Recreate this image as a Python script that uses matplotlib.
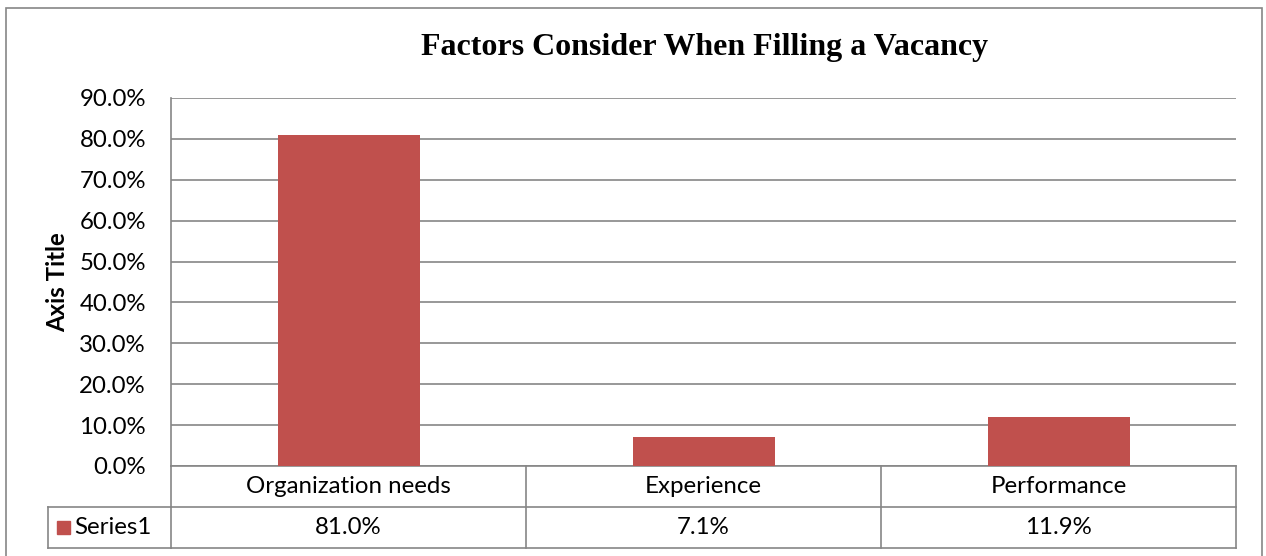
import matplotlib
matplotlib.use("Agg")
import matplotlib.pyplot as plt
from matplotlib.patches import Rectangle
from matplotlib.lines import Line2D
from matplotlib.transforms import blended_transform_factory

categories = ["Organization needs", "Experience", "Performance"]
values = [0.810, 0.071, 0.119]
series_name = "Series1"
title = "Factors Consider When Filling a Vacancy"
y_label = "Axis Title"
y_ticks = [0.0, 0.1, 0.2, 0.3, 0.4, 0.5, 0.6, 0.7, 0.8, 0.9]

W, H = 1266, 556
BAR = "#C0504D"
GRID = "#868686"
FONT = "Lato"
FS = 17.3

fig = plt.figure(figsize=(W / 100, H / 100), dpi=100)
fig.patch.set_facecolor("white")

def fx(px):
    return px / W

def fy(py):
    return 1 - py / H

# outer chart border (bottom edge lies below the image)
fig.patches.append(Rectangle((fx(6), fy(562)), fx(1262) - fx(6), fy(8) - fy(562),
                             transform=fig.transFigure, fill=False, edgecolor=GRID, lw=1.2))

ax_l, ax_r, ax_t, ax_b = 171, 1236, 98, 466
ax = fig.add_axes([fx(ax_l), fy(ax_b), fx(ax_r) - fx(ax_l), fy(ax_t) - fy(ax_b)])
x = list(range(len(categories)))
ax.bar(x, values, width=0.4, color=BAR, zorder=3)
ax.set_xlim(-0.5, len(categories) - 0.5)
ax.set_ylim(0, 0.9)
ax.set_yticks(y_ticks)
ax.set_yticklabels([f"{v:.1%}" for v in y_ticks], fontsize=FS, family=FONT)
ax.tick_params(axis="y", length=0, pad=18)
ax.set_xticks([])
ax.grid(axis="y", color=GRID, lw=1.2, zorder=0)
for s in ["top", "right", "bottom"]:
    ax.spines[s].set_visible(False)
ax.spines["left"].set_color(GRID)
ax.spines["left"].set_linewidth(1.2)

# axis title
fig.text(fx(58), fy(282), y_label, rotation=90, ha="center", va="center",
         fontsize=FS, fontweight="bold", family=FONT)

# chart title
fig.text(fx(705), fy(48), title, ha="center", va="center", fontsize=23,
         fontweight="bold", family="Liberation Serif")

# data table
tr = blended_transform_factory(ax.transData, ax.transAxes)
row_h = 41 / (ax_b - ax_t)
r1_top, r1_bot, r2_bot = 0.0, -row_h, -2 * row_h
xl, xr = -0.5, len(categories) - 0.5

def hline(x0, x1, y, transform=tr):
    ax.add_line(Line2D([x0, x1], [y, y], transform=transform, color=GRID, lw=1.2, clip_on=False))

def vline(xv, y0, y1, transform=tr):
    ax.add_line(Line2D([xv, xv], [y0, y1], transform=transform, color=GRID, lw=1.2, clip_on=False))

hline(xl, xr, r1_top)
hline(xl, xr, r1_bot)
hline(xl, xr, r2_bot)
for b in [i - 0.5 for i in range(len(categories) + 1)]:
    vline(b, r1_top, r2_bot)

# left header cell of row 2 (in axes coords)
left_ax = (48 - ax_l) / (ax_r - ax_l)
hline(left_ax, 0, r1_bot, transform=ax.transAxes)
hline(left_ax, 0, r2_bot, transform=ax.transAxes)
vline(left_ax, r1_bot, r2_bot, transform=ax.transAxes)

for i, (c, v) in enumerate(zip(categories, values)):
    ax.text(i, (r1_top + r1_bot) / 2, c, transform=tr, ha="center", va="center",
            fontsize=FS, family=FONT)
    ax.text(i, (r1_bot + r2_bot) / 2, f"{v:.1%}", transform=tr, ha="center", va="center",
            fontsize=FS, family=FONT)

# legend key + series name
key_l = (57 - ax_l) / (ax_r - ax_l)
key_w = 13 / (ax_r - ax_l)
key_h = 13 / (ax_b - ax_t)
ymid = (r1_bot + r2_bot) / 2
ax.add_patch(Rectangle((key_l, ymid - key_h / 2), key_w, key_h, transform=ax.transAxes,
                       color=BAR, clip_on=False))
ax.text((74 - ax_l) / (ax_r - ax_l), ymid, series_name, transform=ax.transAxes,
        ha="left", va="center", fontsize=FS, family=FONT)

fig.savefig("out.png", dpi=100, facecolor="white")
